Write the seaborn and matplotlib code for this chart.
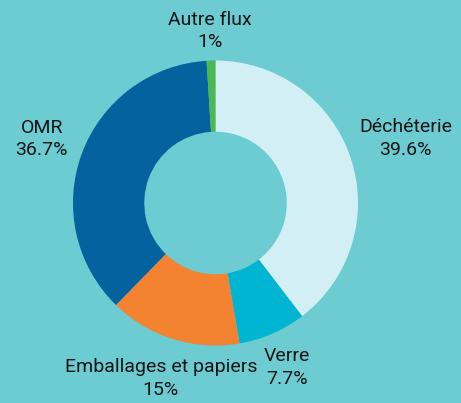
import numpy as np
import matplotlib
matplotlib.use("Agg")
import matplotlib.pyplot as plt
import seaborn as sns

# Waste stream shares (%)
categories = ["Déchéterie", "Verre", "Emballages et papiers", "OMR", "Autre flux"]
shares = [39.6, 7.7, 15, 36.7, 1]
share_labels = ["39.6%", "7.7%", "15%", "36.7%", "1%"]

sns.set_style("white")
plt.rcParams["font.family"] = ["Roboto", "DejaVu Sans"]

bg = "#6DCBD2"
palette = sns.color_palette(["#D3EFF6", "#00B5D1", "#F38231", "#04629E", "#4DB752"])

W, H = 461, 403
fig = plt.figure(figsize=(W / 100, H / 100), dpi=100, facecolor=bg)

# donut centred at (215.5, 203) px with outer radius 142.5 px
cx, cy, r = 215.5, 203.0, 142.5
ax = fig.add_axes([(cx - r) / W, (H - cy - r) / H, 2 * r / W, 2 * r / H])
ax.set_facecolor(bg)

wedges, _ = ax.pie(
    shares,
    colors=palette,
    startangle=90,
    counterclock=False,
    radius=1.0,
    wedgeprops=dict(width=0.5, linewidth=0),
)
ax.set_xlim(-1, 1)
ax.set_ylim(-1, 1)
ax.set_aspect("equal")
ax.axis("off")

# label distance from centre (in radii) for each slice
label_dist = [1.41, 1.26, 1.29, 1.30, 1.21]
for w, name, lab, d in zip(wedges, categories, share_labels, label_dist):
    ang = np.deg2rad((w.theta1 + w.theta2) / 2)
    x, y = d * np.cos(ang), d * np.sin(ang)
    ax.text(x, y, f"{name}\n{lab}", ha="center", va="center",
            multialignment="center", fontsize=14, color="#151515",
            linespacing=1.3, clip_on=False)

fig.savefig("out.png", dpi=100, facecolor=bg)
